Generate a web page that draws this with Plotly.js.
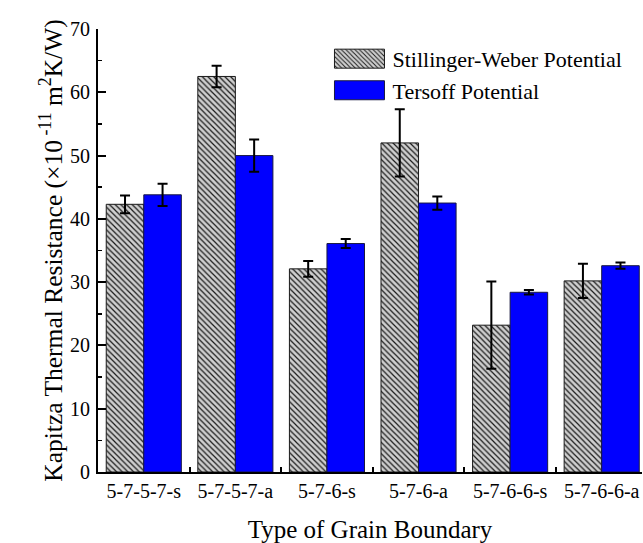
<!DOCTYPE html>
<html>
<head>
<meta charset="utf-8">
<script src="https://cdn.plot.ly/plotly-3.0.1.min.js"></script>
<style>html,body{margin:0;padding:0;background:#fff;}#chart{width:643px;height:543px;}</style>
</head>
<body>
<div id="chart"></div>
<script>
const categories = ["5-7-5-7-s", "5-7-5-7-a", "5-7-6-s", "5-7-6-a", "5-7-6-6-s", "5-7-6-6-a"];
const swValues = [42.3, 62.5, 32.1, 52.0, 23.2, 30.2];
const swErrors = [1.4, 1.7, 1.25, 5.3, 6.9, 2.7];
const tersoffValues = [43.8, 50.0, 36.1, 42.5, 28.4, 32.6];
const tersoffErrors = [1.75, 2.55, 0.7, 1.05, 0.35, 0.5];
const seriesNames = ["Stillinger-Weber Potential", "Tersoff Potential"];
const yTicks = [0, 10, 20, 30, 40, 50, 60, 70];

const FONT = "'Liberation Serif', 'Times New Roman', 'DejaVu Serif', serif";

const traces = [
  {
    type: "bar", name: seriesNames[0], x: categories, y: swValues,
    legendgroup: "a",
    marker: {
      color: "#cfcfcf",
      line: {color: "#1a1a1a", width: 1},
      pattern: {shape: "\\", bgcolor: "#cfcfcf", fgcolor: "#1a1a1a", size: 4, solidity: 0.3}
    },
    error_y: {type: "data", array: swErrors, visible: true, color: "#000", thickness: 2, width: 5}
  },
  {
    type: "bar", name: seriesNames[1], x: categories, y: tersoffValues,
    legendgroup: "b",
    marker: {color: "#0000ff", line: {color: "#1a1a40", width: 1}},
    error_y: {type: "data", array: tersoffErrors, visible: true, color: "#000", thickness: 2, width: 5}
  }
];

const layout = {
  width: 643, height: 543,
  margin: {l: 98, r: 1, t: 29, b: 71},
  paper_bgcolor: "#fff", plot_bgcolor: "#fff",
  font: {family: FONT, color: "#000", size: 20},
  barmode: "group", bargap: 0.18, bargroupgap: 0,
  showlegend: true,
  legend: {
    x: 0.42, y: 0.98, xanchor: "left", yanchor: "top",
    font: {family: FONT, size: 22, color: "#000"},
    bgcolor: "rgba(0,0,0,0)", borderwidth: 0,
    traceorder: "grouped", tracegroupgap: 0, itemwidth: 56
  },
  xaxis: {
    type: "category", categoryorder: "array", categoryarray: categories,
    range: [-0.5, 5.44],
    showline: true, linecolor: "#000", linewidth: 2,
    ticks: "inside", tickson: "boundaries", ticklen: 5, tickwidth: 2, tickcolor: "#000",
    showgrid: false, zeroline: false,
    tickfont: {family: FONT, size: 20},
    title: {text: "Type of Grain Boundary", font: {family: FONT, size: 25}, standoff: 21}
  },
  xaxis2: {
    overlaying: "x", side: "top", anchor: "y", range: [0, 544 / 55],
    showline: true, linecolor: "#000", linewidth: 2,
    ticks: "inside", dtick: 1, tick0: 0, ticklen: 6, tickwidth: 2, tickcolor: "#000",
    showticklabels: false, showgrid: false, zeroline: false
  },
  yaxis: {
    range: [0, 70], tickvals: yTicks,
    showline: true, linecolor: "#000", linewidth: 2,
    ticks: "inside", ticklen: 8, tickwidth: 2, tickcolor: "#000",
    minor: {dtick: 5, ticks: "inside", ticklen: 4, tickwidth: 1.5, tickcolor: "#000", showgrid: false},
    showgrid: false, zeroline: false, ticklabelstandoff: 2,
    tickfont: {family: FONT, size: 20},
    title: {text: "Kapitza Thermal Resistance (×10<sup> -11</sup> m<sup>2</sup>K/W)", font: {family: FONT, size: 25.5}, standoff: 0}
  },
  yaxis2: {
    overlaying: "y", side: "right", anchor: "x", range: [0, 5],
    showline: true, linecolor: "#000", linewidth: 2,
    ticks: "inside", dtick: 1, tick0: 0, ticklen: 5, tickwidth: 2, tickcolor: "#000",
    showticklabels: false, showgrid: false, zeroline: false
  }
};

Plotly.newPlot("chart", traces, layout, {staticPlot: true, displayModeBar: false}).then(function (gd) {
  gd.querySelectorAll(".legend .legendpoints path").forEach(function (p) {
    p.setAttribute("d", "M-25,-9.5H25V9.5H-25Z");
  });
});
</script>
</body>
</html>
